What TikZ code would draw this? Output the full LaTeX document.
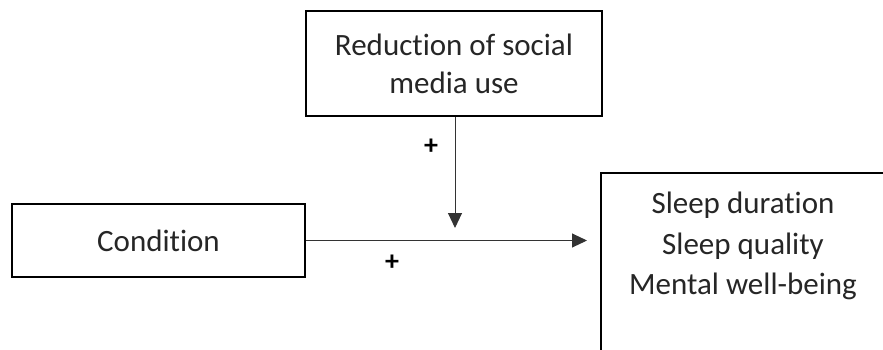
\documentclass[tikz,border=0pt]{standalone}
\usepackage{fontspec}
\setmainfont{Carlito}[Ligatures=NoCommon]
\usetikzlibrary{arrows.meta}
\definecolor{txt}{HTML}{262626}
\tikzset{
  box/.style={draw=black, line width=2pt, fill=white, inner sep=0pt, text=txt,
    align=center, font=\fontsize{31}{38}\selectfont},
  conn/.style={draw=black!80, line width=1pt, -{Triangle[length=15pt,width=14pt]}},
  sign/.style={font=\fontsize{28}{28}\selectfont\bfseries, text=black, inner sep=0pt}
}
\begin{document}
\begin{tikzpicture}[x=1pt,y=-1pt]
\useasboundingbox (0,0) rectangle (883,349);
\clip (0,0) rectangle (883,349);
\node[box, minimum width=296pt, minimum height=105pt] (red) at (454,63.5) {Reduction of social\\media use};
\node[box, minimum width=293pt, minimum height=73pt] (cond) at (158.5,240.5) {Condition};
\node[box, minimum width=300pt, minimum height=200pt, anchor=north west] (outc) at (600,172) {};
\node[text=txt, align=center, font=\fontsize{31}{40.5}\selectfont, inner sep=0pt] (outt) at (743,246) {Sleep duration\\Sleep quality\\Mental well-being};
\coordinate (mod) at (455,242);
\draw[conn, shorten >=13pt] (cond.east) -- (cond.east -| outc.west);
\draw[conn, shorten >=14pt] (red.south -| mod) -- (mod);
\node[sign] (p1) at (431,147) {+};
\node[sign] (p2) at (392,263) {+};
\end{tikzpicture}
\end{document}
